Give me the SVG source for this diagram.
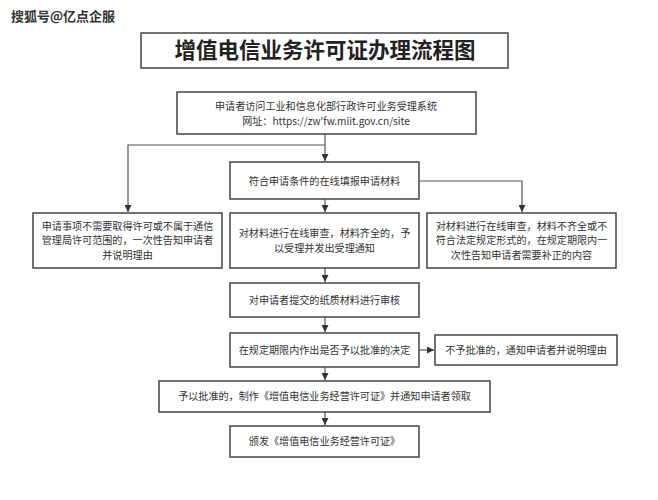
<svg xmlns="http://www.w3.org/2000/svg" width="658" height="500" viewBox="0 0 658 500">
<style>
.box{fill:#fff;stroke:#444;stroke-width:1.5}
.t{font-family:"Noto Sans CJK SC","Noto Sans",sans-serif;font-size:10.1px;fill:#333;text-anchor:middle}
.title{font-family:"Noto Sans CJK SC",sans-serif;font-size:21.5px;font-weight:bold;fill:#222;text-anchor:middle}
.wm{font-family:"Noto Sans CJK SC",sans-serif;font-size:13px;font-weight:bold;fill:#333}
.ln{fill:none;stroke:#555;stroke-width:1.2}
</style>
<defs>
<marker id="ah" viewBox="0 0 10 10" refX="10" refY="5" markerWidth="7" markerHeight="7" markerUnits="userSpaceOnUse" orient="auto">
<path d="M0,0 L10,5 L0,10 z" fill="#333"/>
</marker>
</defs>
<rect width="658" height="500" fill="#fff"/>
<text class="wm" x="11" y="21">搜狐号@亿点企服</text>
<g id="title">
<rect class="box" x="141" y="33" width="367" height="35"/>
<text class="title" x="325" y="58">增值电信业务许可证办理流程图</text>
</g>
<g id="connectors">
<path class="ln" d="M325,134 V161" marker-end="url(#ah)"/>
<path class="ln" d="M325,145 H128 V212" marker-end="url(#ah)"/>
<path class="ln" d="M419,181 H522 V212" marker-end="url(#ah)"/>
<path class="ln" d="M325,199 V212" marker-end="url(#ah)"/>
<path class="ln" d="M325,268 V282" marker-end="url(#ah)"/>
<path class="ln" d="M325,317 V332" marker-end="url(#ah)"/>
<path class="ln" d="M419,350 H434" marker-end="url(#ah)"/>
<path class="ln" d="M325,367 V380" marker-end="url(#ah)"/>
<path class="ln" d="M325,412 V425" marker-end="url(#ah)"/>
</g>
<g id="n1">
<rect class="box" x="177" y="92" width="299" height="42"/>
<text class="t" x="326" y="109.5">申请者访问工业和信息化部行政许可业务受理系统</text>
<text class="t" x="326" y="124.5">网址：https://zw'fw.miit.gov.cn/site</text>
</g>
<g id="n2">
<rect class="box" x="230" y="162" width="189" height="37"/>
<text class="t" x="324.5" y="184.5">符合申请条件的在线填报申请材料</text>
</g>
<g id="n3">
<rect class="box" x="33" y="213" width="189" height="55"/>
<text class="t" x="127.5" y="229.5">申请事项不需要取得许可或不属于通信</text>
<text class="t" x="127.5" y="244.3">管理局许可范围的，一次性告知申请者</text>
<text class="t" x="127.5" y="259">并说明理由</text>
</g>
<g id="n4">
<rect class="box" x="230" y="213" width="189" height="55"/>
<text class="t" x="324.5" y="237">对材料进行在线审查，材料齐全的，予</text>
<text class="t" x="324.5" y="251.8">以受理并发出受理通知</text>
</g>
<g id="n5">
<rect class="box" x="427" y="213" width="189" height="55"/>
<text class="t" x="521.5" y="229.5">对材料进行在线审查，材料不齐全或不</text>
<text class="t" x="521.5" y="244.3">符合法定规定形式的，在规定期限内一</text>
<text class="t" x="521.5" y="259">次性告知申请者需要补正的内容</text>
</g>
<g id="n6">
<rect class="box" x="230" y="283" width="189" height="34"/>
<text class="t" x="324.5" y="303.5">对申请者提交的纸质材料进行审核</text>
</g>
<g id="n7">
<rect class="box" x="230" y="333" width="189" height="34"/>
<text class="t" x="324.5" y="353.5">在规定期限内作出是否予以批准的决定</text>
</g>
<g id="n8">
<rect class="box" x="435" y="335" width="182" height="30"/>
<text class="t" x="526" y="353.5">不予批准的，通知申请者并说明理由</text>
</g>
<g id="n9">
<rect class="box" x="159" y="381" width="331" height="31"/>
<text class="t" x="324.5" y="400">予以批准的，制作《增值电信业务经营许可证》并通知申请者领取</text>
</g>
<g id="n10">
<rect class="box" x="230" y="426" width="189" height="31"/>
<text class="t" x="324.5" y="445">颁发《增值电信业务经营许可证》</text>
</g>
</svg>
